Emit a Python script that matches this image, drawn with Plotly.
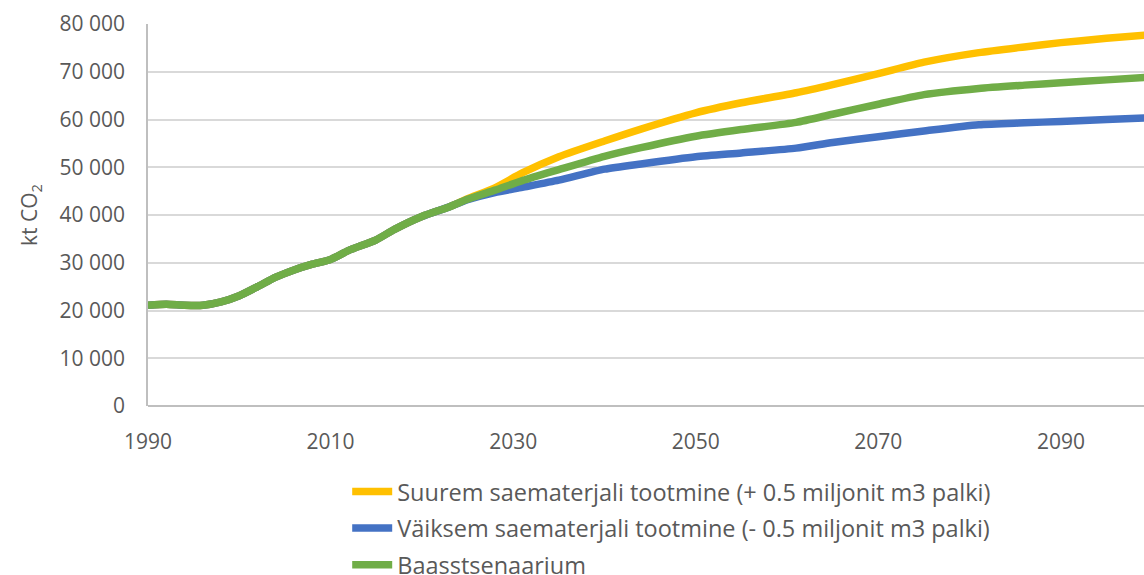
import plotly.graph_objects as go

# Years with readings
years = [1990, 1992, 1994, 1996, 1998, 2000, 2002, 2004, 2006, 2008, 2010, 2012,
         2015, 2017, 2020, 2023, 2025, 2028, 2031, 2035, 2040, 2044, 2050, 2055,
         2061, 2065, 2070, 2075, 2081, 2086, 2090, 2095, 2100]

# kt CO2 per scenario
suurem = [21100, 21300, 21100, 21100, 21800, 23100, 25000, 27000, 28500, 29700, 30700, 32600,
          34800, 37000, 39700, 41700, 43400, 45700, 48800, 52200, 55500, 58000, 61400, 63500,
          65600, 67300, 69600, 72000, 74000, 75200, 76100, 77000, 77800]
vaiksem = [21100, 21300, 21100, 21100, 21800, 23100, 25000, 27000, 28500, 29700, 30700, 32600,
           34800, 37000, 39700, 41700, 43200, 44700, 45800, 47300, 49600, 50700, 52200, 53000,
           54000, 55200, 56400, 57600, 58900, 59300, 59600, 60000, 60400]
baas = [21100, 21300, 21100, 21100, 21800, 23100, 25000, 27000, 28500, 29700, 30700, 32600,
        34800, 37000, 39700, 41700, 43300, 45200, 47200, 49500, 52300, 54100, 56500, 57900,
        59400, 61100, 63200, 65200, 66500, 67200, 67700, 68300, 68900]

names = ["Suurem saematerjali tootmine (+ 0.5 miljonit m3 palki)",
         "Väiksem saematerjali tootmine (- 0.5 miljonit m3 palki)",
         "Baasstsenaarium"]
colors = ["#FFC000", "#4472C4", "#70AD47"]
x_ticks = [1990, 2010, 2030, 2050, 2070, 2090]
y_ticks = [0, 10000, 20000, 30000, 40000, 50000, 60000, 70000, 80000]

FONT = "Open Sans"
GREY = "#595959"

fig = go.Figure()
for i, (name, vals, col) in enumerate(zip(names, [suurem, vaiksem, baas], colors)):
    fig.add_trace(go.Scatter(
        x=years, y=vals, name=name, mode="lines",
        line=dict(color=col, width=7.5, shape="spline", smoothing=0.6),
        legendgroup=f"g{i}",
    ))

fig.update_layout(
    width=1144, height=575,
    margin=dict(l=148, r=0, t=24, b=169, autoexpand=False),
    paper_bgcolor="white", plot_bgcolor="white",
    separators=". ",
    font=dict(family=FONT, color=GREY, size=21),
    showlegend=True,
    legend=dict(
        orientation="v", x=0.2, xanchor="left",
        yref="container", y=0.183, yanchor="top",
        font=dict(family=FONT, size=23.5, color=GREY),
        tracegroupgap=3, itemwidth=40, bgcolor="rgba(0,0,0,0)",
    ),
)
fig.update_xaxes(
    range=[1990, 2099.1], tickvals=x_ticks, ticktext=[str(v) for v in x_ticks],
    showgrid=False, zeroline=False, showline=False,
    tickfont=dict(family=FONT, size=21, color=GREY),
    ticks="outside", ticklen=17, tickcolor="rgba(0,0,0,0)",
)
fig.update_yaxes(
    range=[0, 80000], tickvals=y_ticks, tickformat=",d",
    showgrid=True, gridcolor="#D9D9D9", gridwidth=1.5,
    zeroline=True, zerolinecolor="#BFBFBF", zerolinewidth=1.5,
    showline=True, linecolor="#BFBFBF", linewidth=1.5,
    tickfont=dict(family=FONT, size=21, color=GREY),
    ticks="outside", ticklen=17, tickcolor="rgba(0,0,0,0)",
    title=dict(text="kt CO<sub>2</sub>", font=dict(family=FONT, size=21, color=GREY), standoff=16),
)

fig.write_html("out.html")
